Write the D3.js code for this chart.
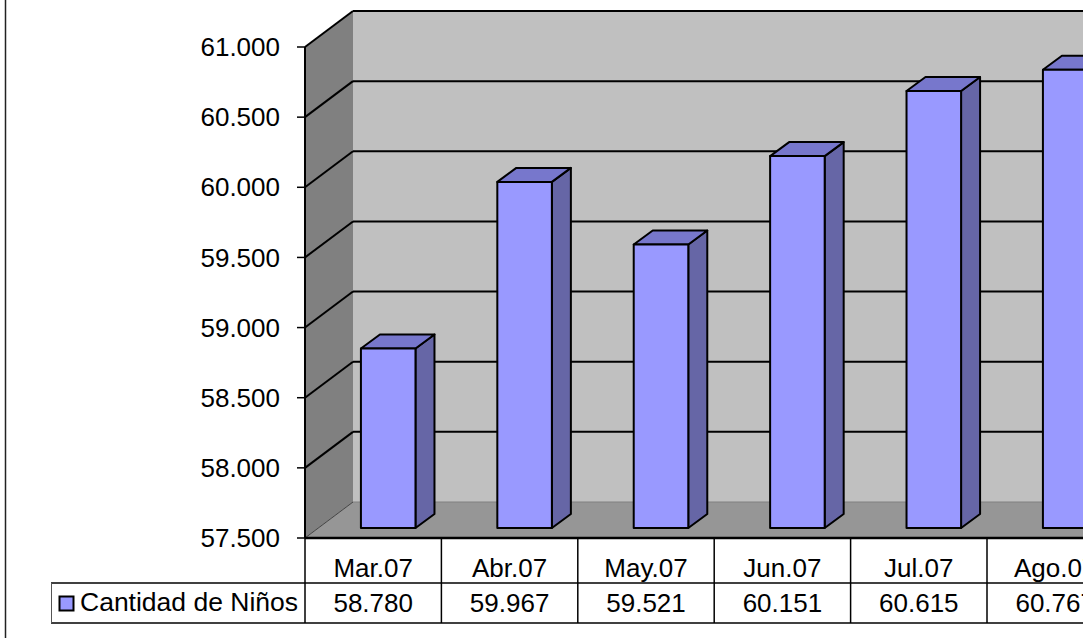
<!DOCTYPE html>
<html><head><meta charset="utf-8">
<script src="https://cdn.jsdelivr.net/npm/d3@7"></script>
<style>
html,body{margin:0;padding:0;background:#fff;}
svg{display:block;font-family:"Liberation Sans",Arial,sans-serif;}
</style></head>
<body><svg id="c" width="1083" height="638"></svg>
<script>
const categories = ["Mar.07","Abr.07","May.07","Jun.07","Jul.07","Ago.07"];
const values = [58780, 59967, 59521, 60151, 60615, 60767];
const seriesName = "Cantidad de Niños";
const tickValues = [57500, 58000, 58500, 59000, 59500, 60000, 60500, 61000];

const fmt = d3.formatLocale({decimal:",", thousands:".", grouping:[3], currency:["","€"]}).format(",d");
const svg = d3.select("#c");
const W = 1083, H = 638;
const X0 = 305, BW = 136.4;
const DX = 48, DY = -36;
const RIGHT = 1300;
const FS = 26;
const x = d3.scaleBand().domain(categories).range([X0, X0 + BW*categories.length]).padding(0);
const y = d3.scaleLinear().domain([57500, 61000]).range([538, 47]);
const yTop = y(61000), yBot = y(57500);

// outer border
svg.append("line").attr("x1",5.5).attr("x2",5.5).attr("y1",0).attr("y2",H).attr("stroke","#222").attr("stroke-width",1.5);

// walls
svg.append("rect").attr("x",X0+DX).attr("y",yTop+DY).attr("width",RIGHT).attr("height",yBot-yTop).attr("fill","#c0c0c0");
svg.append("polygon").attr("points",[[X0,yTop],[X0+DX,yTop+DY],[X0+DX,yBot+DY],[X0,yBot]].join(" ")).attr("fill","#808080");
svg.append("polygon").attr("points",[[X0,yBot],[X0+DX,yBot+DY],[RIGHT,yBot+DY],[RIGHT,yBot]].join(" ")).attr("fill","#969696");

// gridlines
tickValues.forEach(v=>{
  const yy = y(v);
  const base = v===57500;
  svg.append("line").attr("x1",X0).attr("y1",yy).attr("x2",X0+DX).attr("y2",yy+DY)
    .attr("stroke",base?"#404040":"#000").attr("stroke-width",base?1:2);
  svg.append("line").attr("x1",X0+DX).attr("y1",yy+DY).attr("x2",RIGHT).attr("y2",yy+DY)
    .attr("stroke",base?"#808080":"#000").attr("stroke-width",base?1:2);
});

// bars
const barW = BW*0.4, fdx = 15, fdy = -10, bdx = 19, bdy = -14;
const g = svg.append("g").attr("stroke","#000").attr("stroke-width",2).attr("stroke-linejoin","round");
categories.forEach((c,i)=>{
  const l = x(c) + (BW-barW)/2 + fdx, r = l + barW;
  const t = y(values[i]) + fdy, b = y(57500) + fdy;
  g.append("polygon").attr("points",[[r,t],[r+bdx,t+bdy],[r+bdx,b+bdy],[r,b]].join(" ")).attr("fill","#6666a6");
  g.append("polygon").attr("points",[[l,t],[l+bdx,t+bdy],[r+bdx,t+bdy],[r,t]].join(" ")).attr("fill","#7777cc");
  g.append("rect").attr("x",l).attr("y",t).attr("width",barW).attr("height",b-t).attr("fill","#9999ff");
});

// axis
svg.append("line").attr("x1",X0).attr("x2",X0).attr("y1",yTop).attr("y2",yBot).attr("stroke","#000").attr("stroke-width",2);
tickValues.forEach(v=>{
  svg.append("line").attr("x1",X0-8).attr("x2",X0).attr("y1",y(v)).attr("y2",y(v)).attr("stroke","#000").attr("stroke-width",1.5);
  svg.append("text").attr("x",280).attr("y",y(v)).attr("dy","0.35em").attr("text-anchor","end")
    .attr("font-size",FS).attr("fill","#000").text(fmt(v));
});

// data table
const r1 = 538, r2 = 583, r3 = 623;
svg.append("line").attr("x1",X0).attr("x2",RIGHT).attr("y1",r1).attr("y2",r1).attr("stroke","#000").attr("stroke-width",2.5);
svg.append("line").attr("x1",51).attr("x2",RIGHT).attr("y1",r2).attr("y2",r2).attr("stroke","#000").attr("stroke-width",1.5);
svg.append("line").attr("x1",51).attr("x2",RIGHT).attr("y1",r3).attr("y2",r3).attr("stroke","#000").attr("stroke-width",1.5);
svg.append("line").attr("x1",51.5).attr("x2",51.5).attr("y1",r2).attr("y2",r3).attr("stroke","#555").attr("stroke-width",1);
categories.concat([null]).forEach((c,i)=>{
  const xx = X0 + BW*i;
  svg.append("line").attr("x1",xx).attr("x2",xx).attr("y1",r1).attr("y2",r3).attr("stroke","#000").attr("stroke-width",1.5);
});
categories.forEach((c,i)=>{
  const cx = x(c) + BW/2;
  svg.append("text").attr("x",cx).attr("y",577).attr("text-anchor","middle").attr("font-size",FS).text(c);
  svg.append("text").attr("x",cx).attr("y",612).attr("text-anchor","middle").attr("font-size",FS).text(fmt(values[i]));
});
// legend
svg.append("rect").attr("x",59.5).attr("y",596.5).attr("width",14).attr("height",14).attr("fill","#9999ff").attr("stroke","#000").attr("stroke-width",2);
svg.append("text").attr("x",80).attr("y",611).attr("font-size",26.5).text(seriesName);
</script></body></html>
